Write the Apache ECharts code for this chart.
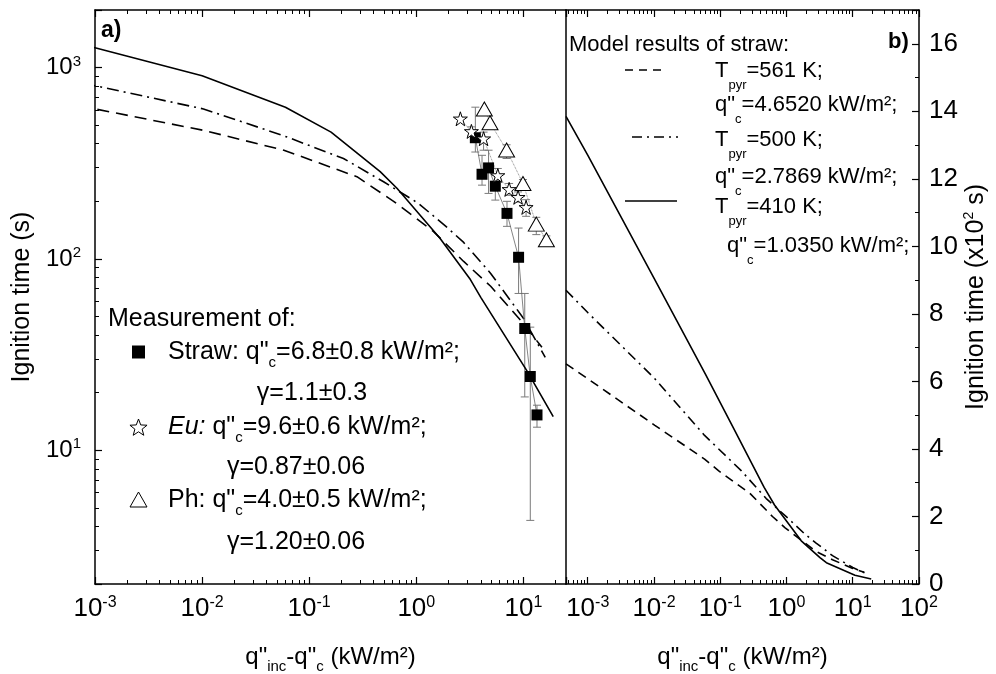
<!DOCTYPE html>
<html>
<head>
<meta charset="utf-8">
<script src="https://cdn.jsdelivr.net/npm/echarts@6/dist/echarts.min.js"></script>
<style>
  html, body { margin: 0; padding: 0; background: #fff; }
  #chart { width: 996px; height: 674px; }
</style>
</head>
<body>
<div id="chart"></div>
<script>
// model curves (ignition time in s) for the three pyrolysis temperatures
const modelX561 = [4.7e-4, 1e-3, 1.03e-2, 5.8e-2, 0.095, 0.279, 0.614, 0.944, 1.45, 2.77, 4.95, 10, 14.9];
const model561  = [652, 608, 470, 370, 335, 269, 200, 167, 139, 97, 72, 46, 34.5];
const modelX500 = [4.7e-4, 1e-3, 1.03e-2, 5.8e-2, 0.209, 0.495, 1.05, 1.94, 2.77, 4.95, 10, 16];
const model500  = [870, 804, 608, 440, 335, 253, 195, 146, 122, 84, 49, 30.6];
const modelX410 = [4.7e-4, 1e-3, 1e-2, 0.06, 0.16, 0.46, 0.66, 1.67, 3.2, 4.0, 10.8, 19];
const model410  = [1385, 1270, 906, 621, 460, 286, 234, 128, 78, 63, 26, 15];

// measurements
const strawX  = [3.56, 4.11, 4.73, 5.47, 7.03, 9.02, 10.3, 11.6, 13.4];
const strawY  = [430, 277, 299, 240, 173, 102, 43.3, 24.3, 15.3];
const strawLo = [362, 243, 220, 203, 148, 66, 19, 4.3, 13.2];
const strawHi = [621, 348, 370, 274, 200, 145, 66, 44, 17.2];

const euX  = [2.58, 3.27, 4.25, 5.77, 7.36, 8.92, 10.6];
const euY  = [540, 464, 425, 273, 231, 210, 186];
const euLo = [null, 440, 370, 254, 215, 198, 167];
const euHi = [null, 490, 460, 297, 248, 224, 204];

const phX  = [4.32, 4.88, 6.97, 9.91, 13.2, 16.4];
const phY  = [607, 515, 371, 248, 152, 126];
const phLo = [null, null, 335, 230, 134, 118];
const phHi = [null, null, 395, 260, 165, 132];

const NARROW = '"Liberation Sans Narrow", "Arial Narrow", "Liberation Sans", Arial, sans-serif';
const SANS = '"Liberation Sans", Arial, sans-serif';

const pairs = (xs, ys) => xs.map((v, i) => [v, ys[i]]);
const bars = (xs, lo, hi) => xs.map((v, i) => [v, lo[i], hi[i]]).filter(d => d[1] != null);

function pow10Label(v) {
  const e = Math.log10(v);
  const r = Math.round(e);
  if (Math.abs(e - r) > 1e-6) return '';
  return '{b|10}{s|' + r + '}';
}

function errorBarItem(params, api) {
  const x = api.value(0);
  const p1 = api.coord([x, api.value(1)]);
  const p2 = api.coord([x, api.value(2)]);
  const w = 4;
  const st = { stroke: '#7a7a7a', lineWidth: 1 };
  return {
    type: 'group',
    children: [
      { type: 'line', shape: { x1: p1[0], y1: p1[1], x2: p2[0], y2: p2[1] }, style: st },
      { type: 'line', shape: { x1: p1[0] - w, y1: p1[1], x2: p1[0] + w, y2: p1[1] }, style: st },
      { type: 'line', shape: { x1: p2[0] - w, y1: p2[1], x2: p2[0] + w, y2: p2[1] }, style: st }
    ]
  };
}

const tickRich = {
  b: { fontSize: 26, fontFamily: NARROW, color: '#000' },
  s: { fontSize: 16, fontFamily: NARROW, color: '#000', padding: [0, 0, 12, 0] }
};
const axisLine = { show: true, onZero: false, lineStyle: { color: '#000', width: 1.5 } };

function logX(grid, pos, labels, min, max) {
  return {
    type: 'log', gridIndex: grid, position: pos, min: min, max: max, logBase: 10,
    axisLine: axisLine,
    axisTick: { show: true, inside: true, length: 7, lineStyle: { color: '#000', width: 1.2 } },
    minorTick: { show: true, splitNumber: 9, length: 4, lineStyle: { color: '#000', width: 1 } },
    splitLine: { show: false },
    axisLabel: labels ? { show: true, margin: 11, formatter: pow10Label, rich: tickRich } : { show: false }
  };
}

const xName = '{a|q"}{s|inc}{a|-q"}{s|c}{a| (kW/m²)}';
const xNameStyle = {
  rich: {
    a: { fontSize: 24, fontFamily: NARROW, color: '#000' },
    s: { fontSize: 15, fontFamily: NARROW, color: '#000', padding: [18, 0, 0, 0] }
  }
};

const xLeft = logX(0, 'bottom', true, 0.001, 25);
xLeft.name = xName; xLeft.nameLocation = 'middle'; xLeft.nameGap = 57; xLeft.nameTextStyle = xNameStyle;
const xRight = logX(1, 'bottom', true, 4.7e-4, 100);
xRight.name = xName; xRight.nameLocation = 'middle'; xRight.nameGap = 57; xRight.nameTextStyle = xNameStyle;

function modelLine(name, xs, ys, dash, xi, yi) {
  return {
    type: 'line', name: name, xAxisIndex: xi, yAxisIndex: yi,
    data: pairs(xs, ys), symbol: 'none', smooth: false,
    lineStyle: { color: '#000', width: 1.6, type: dash }
  };
}

const starPath = 'path://M50,2 L61,36 L97,36 L68,57 L79,92 L50,71 L21,92 L32,57 L3,36 L39,36 Z';

function starPoints(cx, cy, R, r) {
  const pts = [];
  for (let i = 0; i < 10; i++) {
    const a = -Math.PI / 2 + i * Math.PI / 5;
    const rr = i % 2 ? r : R;
    pts.push([cx + rr * Math.cos(a), cy + rr * Math.sin(a)]);
  }
  return pts;
}

const legL = {
  n: { fontSize: 25, fontFamily: SANS, color: '#000' },
  it: { fontSize: 25, fontFamily: SANS, fontStyle: 'italic', color: '#000' },
  sb: { fontSize: 15, fontFamily: SANS, color: '#000', padding: [22, 0, 0, 0] }
};
const legR = {
  n: { fontSize: 22, fontFamily: SANS, color: '#000' },
  sb: { fontSize: 13, fontFamily: SANS, color: '#000', padding: [28, 0, 0, 0] }
};

function txt(x, y, text, rich, align) {
  return {
    type: 'text', x: x, y: y, z: 100,
    style: { text: text, rich: rich, font: '25px ' + SANS, fill: '#000',
             align: align || 'left', verticalAlign: 'middle',
             textAlign: align || 'left', textVerticalAlign: 'middle' }
  };
}
function sample(x1, x2, y, dash) {
  return { type: 'line', z: 100, shape: { x1: x1, y1: y, x2: x2, y2: y },
           style: { stroke: '#000', lineWidth: 1.5, lineDash: dash } };
}

const option = {
  animation: false,
  backgroundColor: '#fff',
  grid: [
    { left: 95, top: 10, width: 471, height: 574, containLabel: false, outerBoundsMode: 'none' },
    { left: 566, top: 10, width: 353, height: 574, containLabel: false, outerBoundsMode: 'none' }
  ],
  xAxis: [
    xLeft,
    logX(0, 'top', false, 0.001, 25),
    xRight,
    logX(1, 'top', false, 4.7e-4, 100)
  ],
  yAxis: [
    {
      type: 'log', gridIndex: 0, position: 'left', min: 2, max: 2000, logBase: 10,
      name: 'Ignition time (s)', nameLocation: 'middle', nameGap: 60, nameRotate: 90,
      nameTextStyle: { fontSize: 25, fontFamily: SANS, color: '#000' },
      axisLine: axisLine,
      axisTick: { show: true, inside: true, length: 7, lineStyle: { color: '#000', width: 1.2 } },
      minorTick: { show: true, splitNumber: 9, length: 4, lineStyle: { color: '#000', width: 1 } },
      splitLine: { show: false },
      axisLabel: { margin: 14, formatter: pow10Label, rich: {
        b: { fontSize: 24, fontFamily: NARROW, color: '#000' },
        s: { fontSize: 15, fontFamily: NARROW, color: '#000', padding: [0, 0, 12, 0] } } }
    },
    {
      type: 'value', gridIndex: 1, position: 'right', min: 0, max: 1700, interval: 200,
      name: '{a|Ignition time (x10}{s|2}{a| s)}', nameLocation: 'middle', nameGap: 40, nameRotate: 90,
      nameTextStyle: { rich: {
        a: { fontSize: 25, fontFamily: SANS, color: '#000' },
        s: { fontSize: 14, fontFamily: SANS, color: '#000', padding: [0, 0, 14, 0] } } },
      axisLine: axisLine,
      axisTick: { show: true, inside: true, length: 7, lineStyle: { color: '#000', width: 1.2 } },
      minorTick: { show: true, splitNumber: 2, length: 4, lineStyle: { color: '#000', width: 1 } },
      splitLine: { show: false },
      axisLabel: { margin: 10, fontSize: 26, fontFamily: NARROW, color: '#000', showMaxLabel: false,
                   formatter: v => (v % 200 === 0 ? String(v / 100) : '') }
    },
    {
      type: 'value', gridIndex: 1, position: 'left', min: 0, max: 1700,
      axisLine: axisLine, axisTick: { show: false }, axisLabel: { show: false }, splitLine: { show: false }
    }
  ],
  series: [
    modelLine('T561', modelX561, model561, [12, 7], 0, 0),
    modelLine('T500', modelX500, model500, [12, 5, 2, 5], 0, 0),
    modelLine('T410', modelX410, model410, 'solid', 0, 0),
    modelLine('T561b', modelX561, model561, [9, 6], 2, 1),
    modelLine('T500b', modelX500, model500, [10, 5, 2, 5], 2, 1),
    modelLine('T410b', modelX410, model410, 'solid', 2, 1),
    { type: 'custom', name: 'strawErr', xAxisIndex: 0, yAxisIndex: 0, renderItem: errorBarItem,
      encode: { x: 0, y: [1, 2] }, data: bars(strawX, strawLo, strawHi), z: 3 },
    { type: 'custom', name: 'euErr', xAxisIndex: 0, yAxisIndex: 0, renderItem: errorBarItem,
      encode: { x: 0, y: [1, 2] }, data: bars(euX, euLo, euHi), z: 3 },
    { type: 'custom', name: 'phErr', xAxisIndex: 0, yAxisIndex: 0, renderItem: errorBarItem,
      encode: { x: 0, y: [1, 2] }, data: bars(phX, phLo, phHi), z: 3 },
    { type: 'line', name: 'Straw', xAxisIndex: 0, yAxisIndex: 0, data: pairs(strawX, strawY),
      symbol: 'rect', symbolSize: 11, itemStyle: { color: '#000' },
      lineStyle: { color: '#666', width: 0.8 }, z: 5 },
    { type: 'line', name: 'Eu', xAxisIndex: 0, yAxisIndex: 0, data: pairs(euX, euY),
      symbol: starPath, symbolSize: 14, itemStyle: { color: '#fff', borderColor: '#000', borderWidth: 1 },
      lineStyle: { color: '#666', width: 0.8, type: 'dotted' }, z: 5 },
    { type: 'line', name: 'Ph', xAxisIndex: 0, yAxisIndex: 0, data: pairs(phX, phY),
      symbol: 'triangle', symbolSize: [16, 14], itemStyle: { color: '#fff', borderColor: '#000', borderWidth: 1 },
      lineStyle: { color: '#666', width: 0.8, type: 'dotted' }, z: 5 }
  ],
  graphic: [
    { type: 'text', x: 101, y: 31, z: 100, style: { text: 'a)', font: 'bold 23px ' + SANS, fill: '#000',
      verticalAlign: 'middle', textVerticalAlign: 'middle' } },
    { type: 'text', x: 888, y: 42, z: 100, style: { text: 'b)', font: 'bold 22px ' + SANS, fill: '#000',
      verticalAlign: 'middle', textVerticalAlign: 'middle' } },

    txt(108, 319, '{n|Measurement of:}', legL),
    { type: 'rect', z: 100, shape: { x: 132, y: 345.5, width: 13, height: 13 }, style: { fill: '#000' } },
    txt(168, 352, '{n|Straw: q"}{sb|c}{n|=6.8±0.8 kW/m²;}', legL),
    txt(312, 393, '{n|γ=1.1±0.3}', legL, 'center'),
    { type: 'polygon', z: 100, shape: { points: starPoints(138.5, 428, 9, 3.8) },
      style: { fill: '#fff', stroke: '#000', lineWidth: 1 } },
    txt(168, 427, '{it|Eu:}{n| q"}{sb|c}{n|=9.6±0.6 kW/m²;}', legL),
    txt(296, 467, '{n|γ=0.87±0.06}', legL, 'center'),
    { type: 'polygon', z: 100, shape: { points: [[130, 507], [147, 507], [138.5, 492]] },
      style: { fill: '#fff', stroke: '#000', lineWidth: 1 } },
    txt(168, 500, '{n|Ph: q"}{sb|c}{n|=4.0±0.5 kW/m²;}', legL),
    txt(296, 542, '{n|γ=1.20±0.06}', legL, 'center'),

    txt(569, 45, '{n|Model results of straw:}', legR),
    sample(625, 667, 70, [8, 6]),
    txt(715, 71, '{n|T}{sb|pyr}{n|=561 K;}', legR),
    txt(715, 105, '{n|q"}{sb|c}{n|=4.6520 kW/m²;}', legR),
    sample(632, 678, 137, [10, 5, 2, 5]),
    txt(715, 140, '{n|T}{sb|pyr}{n|=500 K;}', legR),
    txt(715, 177, '{n|q"}{sb|c}{n|=2.7869 kW/m²;}', legR),
    sample(625, 677, 201, null),
    txt(715, 207, '{n|T}{sb|pyr}{n|=410 K;}', legR),
    txt(727, 246, '{n|q"}{sb|c}{n|=1.0350 kW/m²;}', legR)
  ]
};

const chart = echarts.init(document.getElementById('chart'), null, { renderer: 'canvas' });
chart.setOption(option);
</script>
</body>
</html>
